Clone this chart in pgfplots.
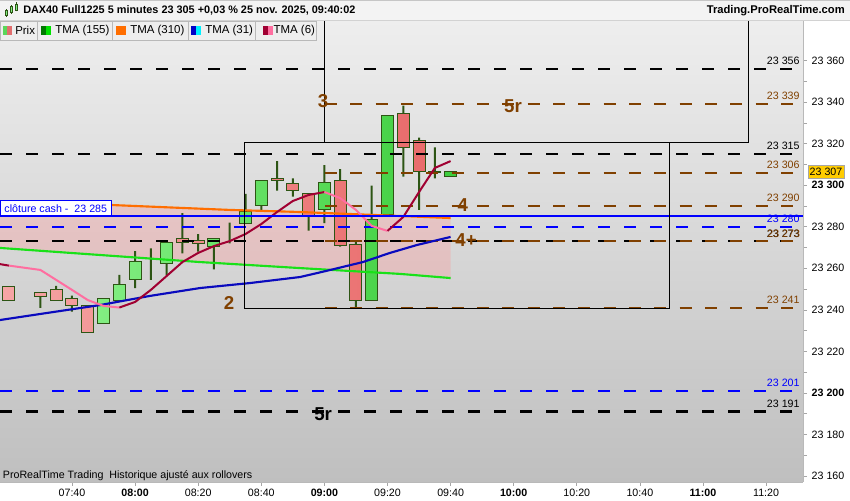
\documentclass[border=0pt]{standalone}
\usepackage{pgfplots}
\pgfplotsset{compat=1.18}
\usepackage{pgfplotstable}
\usepackage{fontspec}
\setmainfont{Liberation Sans}

\definecolor{bgtop}{RGB}{238,238,238}
\definecolor{bgbot}{RGB}{191,191,191}
\definecolor{brn}{RGB}{128,64,0}
\definecolor{wick}{RGB}{45,85,20}
\definecolor{gL}{RGB}{130,238,130}
\definecolor{gR}{RGB}{60,205,60}
\definecolor{rL}{RGB}{246,165,165}
\definecolor{rR}{RGB}{232,105,105}
\definecolor{tmaO}{RGB}{255,110,0}
\definecolor{tmaG}{RGB}{25,225,25}
\definecolor{tmaB}{RGB}{10,10,190}
\definecolor{maroonc}{RGB}{160,0,50}
\definecolor{pinkc}{RGB}{255,110,160}
\definecolor{lblue}{RGB}{0,0,255}
\definecolor{pricey}{RGB}{255,204,0}
\definecolor{pinkA}{RGB}{255,150,150}
\definecolor{hdr}{RGB}{243,243,243}
\definecolor{legb}{RGB}{238,238,238}
\definecolor{icG}{RGB}{90,215,90}
\definecolor{icR}{RGB}{225,110,110}
\definecolor{icDG}{RGB}{0,120,0}
\definecolor{icBG}{RGB}{0,225,0}
\definecolor{icB}{RGB}{0,0,200}
\definecolor{icC}{RGB}{0,240,255}

\pgfplotstableread{
m O H L C
20 23251.3 23251.3 23244.4 23244.4
30 23248.4 23248.4 23241.0 23246.5
35 23249.6 23251.5 23244.6 23244.6
40 23245.6 23246.8 23239.1 23242.2
45 23242.2 23242.2 23229.3 23229.3
50 23233.5 23245.6 23233.5 23245.6
55 23244.7 23256.8 23244.7 23252.3
60 23254.8 23268.3 23250.4 23263.2
65 23264.5 23269.6 23254.4 23264.5
70 23262.4 23273.5 23256.8 23272.5
75 23274.4 23286.5 23267.2 23272.5
80 23273.6 23276.4 23268.0 23271.7
85 23270.7 23274.4 23259.5 23274.4
90 23277.3 23282.0 23272.0 23277.3
95 23281.7 23295.8 23281.7 23287.2
100 23290.1 23302.4 23288.1 23302.4
105 23303.3 23311.6 23297.4 23302.2
110 23300.6 23303.3 23294.5 23297.5
115 23295.8 23295.8 23278.1 23285.2
120 23288.4 23309.7 23281.7 23301.4
125 23302.2 23307.7 23270.4 23271.2
130 23271.6 23272.8 23240.7 23244.6
135 23244.6 23299.8 23244.6 23283.7
140 23285.7 23333.6 23285.7 23333.6
145 23334.6 23338.3 23304.1 23318.2
150 23321.6 23322.9 23288.1 23306.5
155 23306.8 23318.2 23303.3 23305.9
160 23304.3 23306.5 23304.3 23306.5
}\candles

\pgfplotsset{
  base/.style={width=602.25pt, height=346.5pt, scale only axis,
    xmin=17.18, xmax=271.7, at={(0pt,0pt)}, anchor=south west},
  real/.style={base, ymin=23157.13, ymax=23379.52},
  shifted/.style={base, ymin=7.13, ymax=229.52},
}
\tikzset{
  blk/.style={black, line width=1.8pt, dash pattern=on 9pt off 10.5pt},
  brnd/.style={brn, line width=1.5pt, dash pattern=on 9pt off 10pt},
  blud/.style={lblue, line width=1.7pt, dash pattern=on 9pt off 10.5pt},
  lvl/.style={anchor=base east, inner sep=0pt, yshift=3.2pt, font=\fontsize{8}{9}\selectfont},
  ann/.style={font=\fontsize{14}{14}\selectfont\bfseries, inner sep=0pt},
}

\begin{document}
\begin{tikzpicture}
\shade[top color=bgtop, bottom color=bgbot] (0pt,0pt) rectangle (602.25pt,346.5pt);

% pink area between TMA 155 and TMA 310
\begin{axis}[real, hide axis]
\addplot[fill=pinkA, fill opacity=0.32, draw=none] coordinates {
(17.18,23291.4) (52,23290.5) (90,23288.1) (112.2,23287.1) (160,23284.2)
(160,23255.3) (144,23257.3) (112.3,23260.1) (80.6,23263.0) (48.9,23266.4) (17.18,23269.8)} -- cycle;
\end{axis}

% wicks
\begin{axis}[shifted, hide axis, ybar stacked, bar width=1.5pt]
\addplot[draw=none, fill=none] table[x=m, y expr={\thisrow{L}-23150}] \candles;
\addplot[draw=none, fill=wick] table[x=m, y expr={\thisrow{H}-\thisrow{L}}] \candles;
\end{axis}

% bodies
\begin{axis}[shifted, hide axis, ybar stacked, bar width=9pt]
\addplot[draw=none, fill=none] table[x=m, y expr={min(\thisrow{O},\thisrow{C})-23150}] \candles;
\addplot[draw=wick, line width=0.75pt, left color=gL, right color=gR] table[x=m, y expr={max(\thisrow{C}-\thisrow{O},0)}] \candles;
\addplot[draw=wick, line width=0.75pt, left color=rL, right color=rR] table[x=m, y expr={max(\thisrow{O}-\thisrow{C},0)}] \candles;
\end{axis}

\begin{axis}[real,
  axis x line*=bottom, axis y line*=right,
  axis line style={draw=gray!55, -},
  tick align=outside, major tick length=3pt, minor tick length=3pt,
  tick style={gray!70, line width=0.5pt},
  xtick={40,60,...,260},
  xticklabels={07:40,\textbf{08:00},08:20,08:40,\textbf{09:00},09:20,09:40,\textbf{10:00},10:20,10:40,\textbf{11:00},11:20},
  ytick={23160,23180,...,23360},
  yticklabels={23 160,23 180,\textbf{23 200},23 220,23 240,23 260,23 280,\textbf{23 300},23 320,23 340,23 360},
  minor y tick num=1,
  ticklabel style={font=\fontsize{8}{9}\selectfont},
  xticklabel style={yshift=1pt},
]
% horizontal levels
\addplot[blk] coordinates {(17.18,23356) (270.7,23356)};
\addplot[blk] coordinates {(17.18,23315) (270.7,23315)};
\addplot[blk] coordinates {(17.18,23273) (270.7,23273)};
\addplot[blk] coordinates {(17.18,23191) (270.7,23191)};
\addplot[blud] coordinates {(17.18,23280) (270.7,23280)};
\addplot[blud] coordinates {(17.18,23201) (270.7,23201)};
\addplot[brnd] coordinates {(120.2,23339) (270.7,23339)};
\addplot[brnd] coordinates {(120.2,23306) (270.7,23306)};
\addplot[brnd] coordinates {(120.2,23290) (270.7,23290)};
\addplot[brnd] coordinates {(120.2,23273) (270.7,23273)};
\addplot[brnd] coordinates {(120.2,23241) (270.7,23241)};

% moving averages
\addplot[tmaO, line width=1.6pt] coordinates {(17.18,23291.4) (52,23290.5) (90,23288.1) (112.2,23287.1) (160,23284.2)};
\addplot[tmaG, line width=1.6pt] coordinates {(17.18,23269.8) (48.9,23266.4) (80.6,23263.0) (112.3,23260.1) (144,23257.3) (160,23255.3)};
\addplot[tmaB, line width=1.6pt] coordinates {(17.18,23235.1) (29.9,23238.0) (48.9,23242.3) (64.7,23246.7) (80.6,23250.5) (96.4,23252.9) (112.3,23255.8) (120.5,23258.7) (132.2,23263.0) (140.8,23267.4) (149.3,23271.2) (160,23275.1)};
\addplot[maroonc, line width=1.5pt] coordinates {(17.18,23262.0) (20,23261.3)};
\addplot[pinkc, line width=1.5pt] coordinates {(20,23261.3) (30,23259.2) (35,23254.4) (40,23249.6) (45,23244.7) (50,23241.9) (55,23241.1)};
\addplot[maroonc, line width=1.5pt] coordinates {(55,23241.1) (60,23243.8) (65,23249.6) (70,23256.3) (75,23263.0) (80,23267.4) (85,23270.7) (90,23273.1) (95,23276.5) (100,23281.3) (105,23287.1) (110,23292.4) (115,23295.3) (120,23296.7)};
\addplot[pinkc, line width=1.5pt] coordinates {(120,23296.7) (125,23293.8) (130,23288.1) (135,23280.4) (140,23278.0)};
\addplot[maroonc, line width=1.5pt] coordinates {(140,23278.0) (145,23284.7) (150,23296.7) (155,23308.3) (160,23311.6)};

% cash close line
\addplot[lblue, line width=1.7pt] coordinates {(17.18,23285) (271.7,23285)};

% rectangles
\draw[black, line width=0.75pt] (94.8,23240.6) rectangle (229.5,23320.7);
\draw[black, line width=0.75pt] (119.9,23320.7) -- (119.9,23400);
\draw[black, line width=0.75pt] (229.5,23320.7) -- (254.3,23320.7) -- (254.3,23400);

% level labels
\node[lvl, text=black] at (270.7,23356) {23 356};
\node[lvl, text=brn] at (270.7,23339) {23 339};
\node[lvl, text=black] at (270.7,23315) {23 315};
\node[lvl, text=brn] at (270.7,23306) {23 306};
\node[lvl, text=brn] at (270.7,23290) {23 290};
\node[lvl, text=lblue] at (270.7,23280) {23 280};
\node[lvl, text=black] at (270.7,23273) {23 273};
\node[lvl, text=brn, xshift=0.3pt] at (270.7,23273) {23 273};
\node[lvl, text=brn] at (270.7,23241) {23 241};
\node[lvl, text=lblue] at (270.7,23201) {23 201};
\node[lvl, text=black] at (270.7,23191) {23 191};

% annotations
\node[ann, text=brn] at (119.6,23340.5) {3};
\node[ann, text=brn] at (179.8,23338.1) {5r};
\node[ann, text=brn] at (163.9,23290.5) {4};
\node[ann, text=brn] at (164.9,23273.6) {4+};
\node[ann, text=brn] at (89.8,23243.3) {2};
\node[ann, text=black] at (119.6,23189.9) {5r};

\node[anchor=south west, draw=lblue, line width=0.75pt, fill=white, text=lblue, inner xsep=3pt, inner ysep=1.5pt, minimum height=11.25pt, font=\fontsize{8}{9}\selectfont] at (17.18,23285) {clôture cash -\ \ 23 285};
\end{axis}

% price label
\node[fill=pricey, draw=gray!70, line width=0.5pt, minimum width=27pt, minimum height=10pt, inner sep=0pt, font=\fontsize{8}{9}\selectfont] at (619.5pt,232.8pt) {23 307};

% header
\fill[hdr] (0pt,346.5pt) rectangle (637.5pt,361.5pt);
\draw[gray!45, line width=0.5pt] (0pt,361.2pt) -- (637.5pt,361.2pt);
\draw[gray!35, line width=0.5pt] (0pt,346.5pt) -- (637.5pt,346.5pt);
% small candle icon
\draw[wick, line width=0.5pt] (4.6pt,349pt) -- (4.6pt,355pt);
\filldraw[fill=gL, draw=wick, line width=0.4pt] (3.8pt,350pt) rectangle (5.4pt,353.5pt);
\draw[wick, line width=0.5pt] (8.4pt,351pt) -- (8.4pt,358pt);
\filldraw[fill=gL, draw=wick, line width=0.4pt] (7.6pt,352.5pt) rectangle (9.2pt,356.5pt);
\draw[wick, line width=0.5pt] (12.2pt,353pt) -- (12.2pt,360pt);
\filldraw[fill=gL, draw=wick, line width=0.4pt] (11.4pt,354pt) rectangle (13pt,358.5pt);
\node[anchor=west, inner sep=0pt, font=\fontsize{8.15}{10}\selectfont\bfseries] at (17.25pt,353.4pt) {DAX40 Full1225 5 minutes 23 305 +0,03 \% 25 nov. 2025, 09:40:02};
\node[anchor=east, inner sep=0pt, font=\fontsize{8.4}{10}\selectfont\bfseries] at (633.75pt,353.4pt) {Trading.ProRealTime.com};

% legend row
\foreach \a/\b in {0/28, 28/84.5, 84.5/141.25, 141.25/191.75, 191.75/237.5}{
  \filldraw[fill=legb, draw=gray!55, line width=0.5pt] (\a pt,331.5pt) rectangle (\b pt,345.6pt);
}
\fill[icG] (2pt,335.25pt) rectangle (5.5pt,342pt);
\fill[icR] (5.5pt,335.25pt) rectangle (9pt,342pt);
\node[anchor=west, inner sep=0pt, font=\fontsize{8.6}{10}\selectfont] at (11.25pt,338.5pt) {Prix};
\fill[icDG] (30.5pt,335.25pt) rectangle (34.25pt,342pt);
\fill[icBG] (34.25pt,335.25pt) rectangle (38.25pt,342pt);
\node[anchor=west, inner sep=0pt, font=\fontsize{8.6}{10}\selectfont] at (41.25pt,338.5pt) {TMA (155)};
\fill[tmaO] (87pt,335.25pt) rectangle (94.5pt,342pt);
\node[anchor=west, inner sep=0pt, font=\fontsize{8.6}{10}\selectfont] at (97.5pt,338.5pt) {TMA (310)};
\fill[icB] (143.25pt,335.25pt) rectangle (147pt,342pt);
\fill[icC] (147pt,335.25pt) rectangle (150.75pt,342pt);
\node[anchor=west, inner sep=0pt, font=\fontsize{8.6}{10}\selectfont] at (153.75pt,338.5pt) {TMA (31)};
\fill[maroonc] (197pt,335.25pt) rectangle (200.75pt,342pt);
\fill[pinkc] (200.75pt,335.25pt) rectangle (204.5pt,342pt);
\node[anchor=west, inner sep=0pt, font=\fontsize{8.6}{10}\selectfont] at (205pt,338.5pt) {TMA (6)};

% footer text
\node[anchor=west, inner sep=0pt, font=\fontsize{8}{9}\selectfont] at (2pt,4.5pt) {ProRealTime Trading\ \ Historique ajusté aux rollovers};

\pgfresetboundingbox
\path[use as bounding box] (0pt,-13.5pt) rectangle (637.5pt,361.5pt);
\end{tikzpicture}
\end{document}
